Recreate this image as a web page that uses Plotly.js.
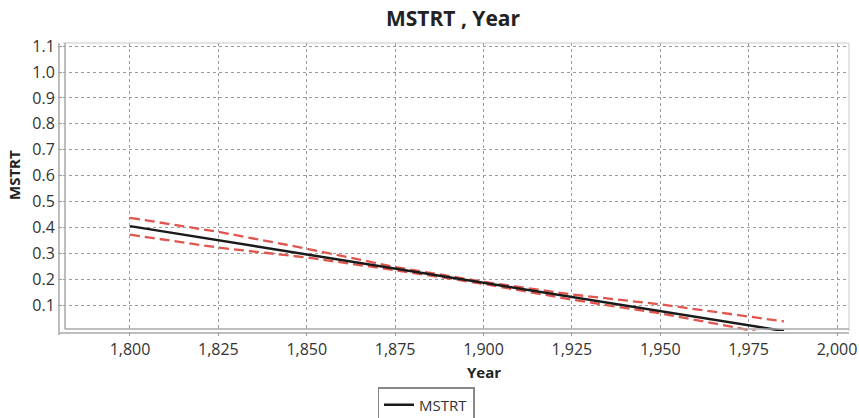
<!DOCTYPE html>
<html>
<head>
<meta charset="utf-8">
<script src="https://cdn.plot.ly/plotly-3.0.1.min.js"></script>
<style>html,body{margin:0;padding:0;background:#fff;}#chart{width:859px;height:418px;}</style>
</head>
<body>
<div id="chart"></div>
<script>
// Fitted line
const fitYears = [1800, 1985];
const fitValues = [0.405, 0.0];
// Confidence band (dashed)
const bandYears = [1800, 1825, 1850, 1875, 1900, 1925, 1950, 1975, 1985];
const upperValues = [0.437, 0.383, 0.318, 0.247, 0.190, 0.141, 0.103, 0.055, 0.037];
const lowerValues = [0.372, 0.322, 0.284, 0.235, 0.182, 0.121, 0.068, 0.004, -0.033];
const xTicks = [1800, 1825, 1850, 1875, 1900, 1925, 1950, 1975, 2000];
const xTickLabels = ['1,800', '1,825', '1,850', '1,875', '1,900', '1,925', '1,950', '1,975', '2,000'];
const yTicks = [0.1, 0.2, 0.3, 0.4, 0.5, 0.6, 0.7, 0.8, 0.9, 1.0, 1.1];
const yTickLabels = ['0.1', '0.2', '0.3', '0.4', '0.5', '0.6', '0.7', '0.8', '0.9', '1.0', '1.1'];

const FONT = '"Open Sans", "DejaVu Sans", sans-serif';
const red = '#e0554e';
const L = 63, R = 849, T = 43, B = 331;
const W = R - L, H = B - T;

const traces = [
  {x: bandYears, y: upperValues, mode: 'lines', showlegend: false, hoverinfo: 'skip',
   line: {color: red, width: 2.3, dash: '10px,5px'}},
  {x: bandYears, y: lowerValues, mode: 'lines', showlegend: false, hoverinfo: 'skip',
   line: {color: red, width: 2.3, dash: '10px,5px'}},
  {x: fitYears, y: fitValues, mode: 'lines', name: 'MSTRT',
   line: {color: '#1a1a1a', width: 2.5}}
];

const layout = {
  width: 859, height: 418,
  margin: {l: L, r: 859 - R, t: T, b: 418 - B, pad: 0, autoexpand: false},
  paper_bgcolor: '#ffffff', plot_bgcolor: '#ffffff',
  font: {family: FONT, size: 16, color: '#333333'},
  title: {text: '<b>MSTRT , Year</b>', font: {family: FONT, size: 21, color: '#222222'},
          x: 453 / 859, xanchor: 'center', xref: 'container',
          y: 1 - 19 / 418, yanchor: 'middle', yref: 'container'},
  xaxis: {range: [1781.05, 2003.39], tickvals: xTicks, ticktext: xTickLabels,
          showgrid: true, gridcolor: '#9a9a9a', gridwidth: 1, griddash: 'dot',
          zeroline: false, showline: false, ticks: 'outside', ticklen: 4, tickcolor: '#999999',
          automargin: false, tickfont: {family: FONT, size: 16, color: '#333333'}},
  yaxis: {range: [0, 1.112], tickvals: yTicks, ticktext: yTickLabels,
          showgrid: true, gridcolor: '#9a9a9a', gridwidth: 1, griddash: 'dot',
          zeroline: false, showline: false, ticks: 'outside', ticklen: 4, tickcolor: '#999999',
          automargin: false, tickfont: {family: FONT, size: 16, color: '#333333'}},
  showlegend: true,
  legend: {orientation: 'h', x: (426 - L) / W, xanchor: 'center', y: -(387 - B) / H, yanchor: 'top',
           bordercolor: '#888888', borderwidth: 1.5, bgcolor: '#ffffff',
           font: {family: FONT, size: 15, color: '#333333'}, itemwidth: 30},
  annotations: [
    {text: '<b>Year</b>', xref: 'x', x: 1900, yref: 'paper', y: -(372 - B) / H,
     xanchor: 'center', yanchor: 'middle', showarrow: false,
     font: {family: FONT, size: 15, color: '#222222'}},
    {text: '<b>MSTRT</b>', xref: 'paper', x: (14 - L) / W, yref: 'paper', y: (B - 175) / H,
     xanchor: 'center', yanchor: 'middle', showarrow: false, textangle: -90,
     font: {family: FONT, size: 15, color: '#222222'}}
  ],
  shapes: [
    {type: 'line', xref: 'paper', yref: 'paper', x0: 0, x1: 1, y0: 1, y1: 1, line: {color: '#c8c8c8', width: 1}},
    {type: 'line', xref: 'paper', yref: 'paper', x0: 1, x1: 1, y0: 0, y1: 1, line: {color: '#c8c8c8', width: 1}},
    {type: 'line', xref: 'paper', yref: 'paper', x0: -4 / W, x1: -4 / W, y0: -4 / H, y1: 1, line: {color: '#a8a8a8', width: 1.5}},
    {type: 'line', xref: 'paper', yref: 'paper', x0: 2 / W, x1: 2 / W, y0: 2 / H, y1: 1, line: {color: '#a8a8a8', width: 1.5}},
    {type: 'line', xref: 'paper', yref: 'paper', x0: -4 / W, x1: 1, y0: -2 / H, y1: -2 / H, line: {color: '#a8a8a8', width: 1.5}},
    {type: 'line', xref: 'paper', yref: 'paper', x0: 2 / W, x1: 1, y0: 2 / H, y1: 2 / H, line: {color: '#a8a8a8', width: 1.5}}
  ]
};

Plotly.newPlot('chart', traces, layout, {displayModeBar: false, staticPlot: true});
</script>
</body>
</html>
